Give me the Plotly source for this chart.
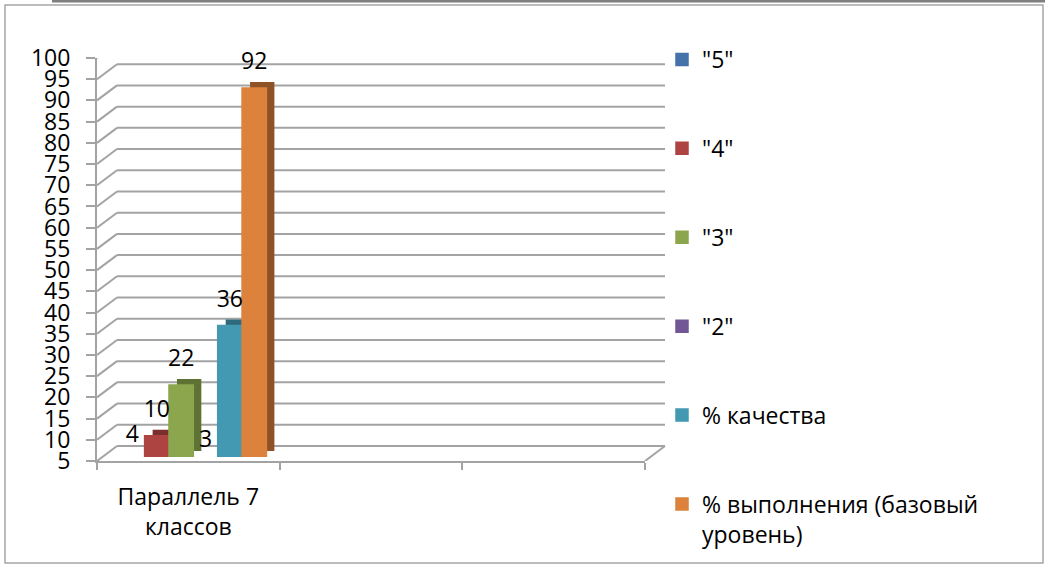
import plotly.graph_objects as go

# data
categories = ["Параллель 7<br>классов", " ", "  "]
series_names = ['"5"', '"4"', '"3"', '"2"', "% качества", "% выполнения (базовый<br>уровень)"]
values = [4, 10, 22, 3, 36, 92]
y_ticks = [5, 10, 15, 20, 25, 30, 35, 40, 45, 50, 55, 60, 65, 70, 75, 80, 85, 90, 95, 100]

front_colors = ["#4672ab", "#ad4442", "#8ca64d", "#735694", "#4399b2", "#dc823d"]
side_colors = ["#2f4d74", "#7a2f2d", "#5e7233", "#4e3a66", "#2d6b7c", "#8f5226"]

W, H = 1045, 565
FONT = "Open Sans"
FS = 23
GRID = "#a3a3a3"

# front plane of the pseudo-3d box, pixels
LEFT, RIGHT = 97, 645
FLOOR, TOP = 461, 58
DEPTH_X, DEPTH_Y = 20, 15
Y_MIN, Y_MAX = 5, 100
UNIT = (FLOOR - TOP) / (Y_MAX - Y_MIN)


def dom_x(dx):
    return [(LEFT + dx) / W, (RIGHT + dx) / W]


def dom_y(dy, extra_below=0):
    return [(H - FLOOR - extra_below + dy) / H, (H - TOP + dy) / H]


fig = go.Figure()

# dark copies give the side/top faces of the bars
for i, (name, v) in enumerate(zip(series_names, values)):
    fig.add_trace(go.Bar(
        x=[categories[0]], y=[v], offsetgroup=str(i),
        marker=dict(color=side_colors[i], line=dict(width=0)),
        xaxis="x3", yaxis="y3", showlegend=False, hoverinfo="skip",
    ))

for i, (name, v) in enumerate(zip(series_names, values)):
    fig.add_trace(go.Bar(
        x=[categories[0]], y=[v], name=name, offsetgroup=str(i),
        legendgroup=str(i),
        marker=dict(color=front_colors[i], line=dict(color=front_colors[i], width=1.5)),
        xaxis="x4", yaxis="y4",
    ))

for i, v in enumerate(values):
    fig.add_trace(go.Scatter(
        x=[categories[0]], y=[v], mode="text", text=[str(v)],
        textposition="top center", offsetgroup=str(i), cliponaxis=False,
        textfont=dict(family=FONT, size=FS, color="#000000"),
        xaxis="x5", yaxis="y5", showlegend=False, hoverinfo="skip",
    ))

cat_axis = dict(type="category", categoryorder="array", categoryarray=categories,
                range=[-0.5, 2.5], showgrid=False, zeroline=False, showline=False,
                showticklabels=False, ticks="", fixedrange=True)
val_axis = dict(range=[Y_MIN, Y_MAX], showgrid=False, zeroline=False, showline=False,
                showticklabels=False, ticks="", fixedrange=True)

shapes = []
for v in y_ticks:
    # back wall grid line
    shapes.append(dict(type="line", xref="x domain", yref="y", layer="below",
                       xsizemode="pixel", xanchor=0, x0=DEPTH_X, x1=DEPTH_X + RIGHT - LEFT,
                       ysizemode="pixel", yanchor=v, y0=DEPTH_Y, y1=DEPTH_Y,
                       line=dict(color=GRID, width=2)))
    # side wall diagonal
    shapes.append(dict(type="line", xref="x domain", yref="y", layer="below",
                       xsizemode="pixel", xanchor=0, x0=0, x1=DEPTH_X,
                       ysizemode="pixel", yanchor=v, y0=0, y1=DEPTH_Y,
                       line=dict(color=GRID, width=2)))
shapes.append(dict(type="line", xref="x domain", yref="y", layer="below",
                   xsizemode="pixel", xanchor=1, x0=0, x1=DEPTH_X,
                   ysizemode="pixel", yanchor=y_ticks[0], y0=0, y1=DEPTH_Y,
                   line=dict(color=GRID, width=2)))
# chart frame
shapes.append(dict(type="rect", xref="paper", yref="paper",
                   x0=5 / W, x1=1043 / W, y0=1 - 563 / H, y1=1 - 5 / H,
                   line=dict(color="#a6a6a6", width=1.5)))
shapes.append(dict(type="line", xref="paper", yref="paper",
                   x0=52 / W, x1=1, y0=1 - 1 / H, y1=1 - 1 / H,
                   line=dict(color="#7f7f7f", width=3)))

fig.update_layout(
    width=W, height=H,
    margin=dict(l=0, r=0, t=0, b=0, autoexpand=False),
    paper_bgcolor="white", plot_bgcolor="rgba(0,0,0,0)",
    font=dict(family=FONT, size=FS, color="#000000"),
    barmode="group", bargap=0.2, bargroupgap=0,
    scattermode="group", scattergap=0.2,
    xaxis=dict(type="category", categoryorder="array", categoryarray=categories,
               range=[-0.5, 2.5], domain=dom_x(0), anchor="y",
               showgrid=False, zeroline=False, showline=True, linecolor=GRID,
               linewidth=2, ticks="outside", tickson="boundaries", ticklen=7,
               tickcolor=GRID, tickwidth=2, tickfont=dict(size=FS),
               ticklabelstandoff=14, fixedrange=True),
    yaxis=dict(range=[Y_MIN, Y_MAX], domain=dom_y(0), anchor="x",
               tickvals=y_ticks, ticktext=[str(t) for t in y_ticks],
               showgrid=False, zeroline=False, showline=True, linecolor=GRID,
               linewidth=2, ticks="outside", ticklen=9, tickcolor=GRID,
               tickwidth=2, tickfont=dict(size=FS), ticklabelstandoff=11,
               fixedrange=True),
    xaxis3=dict(cat_axis, domain=dom_x(13), anchor="y3"),
    yaxis3=dict(val_axis, domain=dom_y(10), anchor="x3"),
    xaxis4=dict(cat_axis, domain=dom_x(5), anchor="y4"),
    yaxis4=dict(val_axis, domain=dom_y(4), anchor="x4"),
    xaxis5=dict(cat_axis, domain=dom_x(5), anchor="y5"),
    yaxis5=dict(val_axis, range=[0, Y_MAX], domain=dom_y(17, Y_MIN * UNIT), anchor="x5"),
    legend=dict(x=662 / W, y=1 - 38 / H, xanchor="left", yanchor="top",
                font=dict(size=FS), tracegroupgap=56, valign="top",
                bgcolor="rgba(0,0,0,0)", itemclick=False, itemdoubleclick=False),
    shapes=shapes,
    showlegend=True,
)

fig.write_html("out.html", config={"displayModeBar": False},
               post_script="document.body.style.margin='0px';"
                           "document.body.style.overflow='hidden';")
